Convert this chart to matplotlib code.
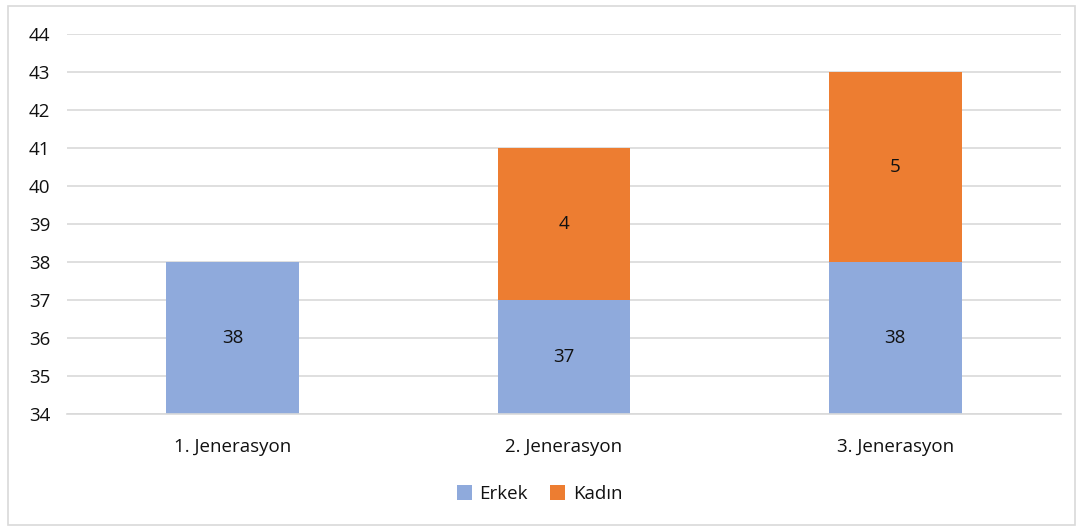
import matplotlib.pyplot as plt
from matplotlib.patches import Rectangle
import numpy as np

categories = ["1. Jenerasyon", "2. Jenerasyon", "3. Jenerasyon"]
erkek = [38, 37, 38]
kadin = [0, 4, 5]
y_min, y_max = 34, 44

plt.rcParams['font.family'] = ['Open Sans', 'DejaVu Sans']

fig = plt.figure(figsize=(10.79, 5.29), dpi=100)
fig.patches.append(Rectangle((8 / 1079, 4 / 529), 1067 / 1079, 519 / 529,
                             transform=fig.transFigure, fill=False,
                             edgecolor="#D9D9D9", linewidth=1.2))
ax = fig.add_axes([67 / 1079, 1 - 414 / 529, 994 / 1079, 380 / 529])

x = np.arange(len(categories))
w = 0.4
blue = "#8FAADC"
orange = "#ED7D31"
txt = "#111111"
b1 = ax.bar(x, erkek, w, color=blue, label="Erkek", zorder=2)
b2 = ax.bar(x, kadin, w, bottom=erkek, color=orange, label="Kadın", zorder=2)

for i in range(len(categories)):
    ax.text(x[i], (max(erkek[i], y_min) + y_min) / 2, str(erkek[i]),
            ha="center", va="center", fontsize=13.5, color=txt, zorder=3)
    if kadin[i] > 0:
        ax.text(x[i], erkek[i] + kadin[i] / 2, str(kadin[i]),
                ha="center", va="center", fontsize=13.5, color=txt, zorder=3)

ax.set_xlim(-0.5, len(categories) - 0.5)
ax.set_ylim(y_min, y_max)
ax.set_yticks(range(y_min, y_max + 1))
ax.set_xticks(x)
ax.set_xticklabels(categories)
ax.grid(axis="y", color="#D9D9D9", linewidth=1.2, zorder=0)
for s in ["top", "right", "left"]:
    ax.spines[s].set_visible(False)
ax.spines["bottom"].set_color("#D9D9D9")
ax.spines["bottom"].set_linewidth(1.2)
ax.tick_params(axis="both", length=0, labelsize=13.5, labelcolor=txt)
ax.tick_params(axis="y", pad=12)
ax.tick_params(axis="x", pad=17)

fig.legend(handles=[b1, b2], loc="center", bbox_to_anchor=(0.5, 1 - 494 / 529),
           ncol=2, frameon=False, fontsize=13.5, handlelength=0.8, handleheight=0.8,
           handletextpad=0.4, columnspacing=1.2)
for t in fig.legends[0].get_texts():
    t.set_color(txt)

fig.savefig("out.png", dpi=100)
